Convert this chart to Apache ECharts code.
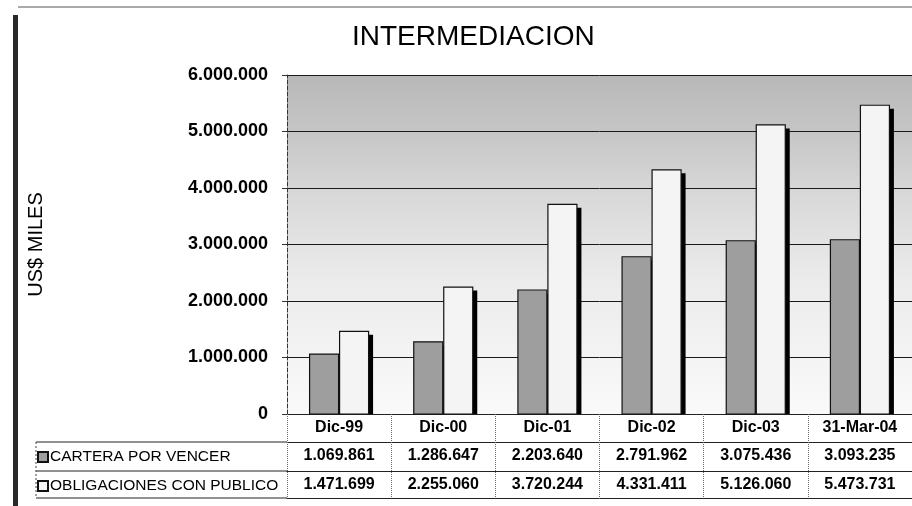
<!DOCTYPE html>
<html>
<head>
<meta charset="utf-8">
<script src="https://cdn.jsdelivr.net/npm/echarts@6/dist/echarts.min.js"></script>
<style>
  html, body { margin: 0; padding: 0; background: #fff; }
  #chart { width: 912px; height: 506px; }
</style>
</head>
<body>
<div id="chart"></div>
<script>
const categories = ["Dic-99", "Dic-00", "Dic-01", "Dic-02", "Dic-03", "31-Mar-04"];
const cartera = [1069861, 1286647, 2203640, 2791962, 3075436, 3093235];
const obligaciones = [1471699, 2255060, 3720244, 4331411, 5126060, 5473731];
const seriesNames = ["CARTERA POR VENCER", "OBLIGACIONES CON PUBLICO"];

const FONT = 'Arial, "Liberation Sans", sans-serif';
const BAR_W = 30;

// miles con punto
function fmt(n) {
  return String(n).replace(/\B(?=(\d{3})+(?!\d))/g, ".");
}

const chart = echarts.init(document.getElementById("chart"));

// barra con sombra negra a la derecha (estilo 3D de Excel)
function barRenderer(slot, fill) {
  return function (params, api) {
    const i = api.value(0);
    const v = api.value(1);
    const base = api.coord([i, 0]);
    const top = api.coord([i, v]);
    const x = base[0] + (slot === 0 ? -BAR_W : 0);
    const h = base[1] - top[1];
    return {
      type: "group",
      children: [
        {
          type: "rect",
          shape: { x: x + 4, y: top[1] + 4, width: BAR_W, height: h - 4 },
          style: { fill: "#000" },
        },
        {
          type: "rect",
          shape: { x: x + 0.5, y: top[1] + 0.5, width: BAR_W - 1, height: h - 0.5 },
          style: { fill: fill, stroke: "#111", lineWidth: 1.2 },
        },
      ],
    };
  };
}

// filas de la tabla: un eje x extra por fila
function tableAxis(offset, values) {
  return {
    type: "category",
    data: categories,
    position: "bottom",
    offset: offset,
    axisLine: { show: true, lineStyle: { color: "#222", width: 1 } },
    axisTick: { show: false },
    axisLabel: {
      show: !!values,
      margin: 6,
      color: "#000",
      fontFamily: FONT,
      fontSize: 16,
      fontWeight: "bold",
      formatter: (v, i) => (values ? fmt(values[i]) : ""),
    },
    splitLine: { show: false },
  };
}

chart.setOption({
  animation: false,
  title: {
    text: "INTERMEDIACION",
    left: 347,
    top: 18,
    textStyle: { fontFamily: FONT, fontSize: 28, fontWeight: "normal", color: "#000" },
  },
  legend: {
    orient: "vertical",
    left: 37,
    top: 449,
    padding: 0,
    itemGap: 13,
    itemWidth: 10,
    itemHeight: 10,
    icon: "rect",
    data: seriesNames,
    textStyle: { fontFamily: FONT, fontSize: 15.5, color: "#000", padding: [0, 0, 0, -3] },
  },
  grid: {
    left: 287,
    right: 0,
    top: 75,
    bottom: 92,
    show: true,
    borderWidth: 0,
    backgroundColor: new echarts.graphic.LinearGradient(0, 0, 0, 1, [
      { offset: 0, color: "#b8b8b8" },
      { offset: 0.17, color: "#c6c6c6" },
      { offset: 0.35, color: "#d8d8d8" },
      { offset: 0.6, color: "#ebebeb" },
      { offset: 1, color: "#fafafa" },
    ]),
  },
  xAxis: [
    {
      type: "category",
      data: categories,
      position: "bottom",
      axisLine: { show: true, lineStyle: { color: "#222", width: 1 } },
      axisTick: {
        show: true,
        inside: false,
        length: 84,
        lineStyle: { color: "#666", type: "dotted", width: 1 },
      },
      axisLabel: { margin: 6, color: "#000", fontFamily: FONT, fontSize: 16, fontWeight: "bold" },
    },
    tableAxis(28, cartera),
    tableAxis(57, obligaciones),
    tableAxis(84, null),
  ],
  yAxis: {
    type: "value",
    min: 0,
    max: 6000000,
    interval: 1000000,
    name: "US$ MILES",
    nameLocation: "middle",
    nameRotate: 90,
    nameGap: 241,
    nameTextStyle: { fontFamily: FONT, fontSize: 20, color: "#000" },
    axisLine: { show: true, lineStyle: { color: "#333", type: "dashed", width: 1 } },
    axisTick: { show: true, length: 5, lineStyle: { color: "#333" } },
    axisLabel: {
      margin: 19,
      color: "#000",
      fontFamily: FONT,
      fontSize: 18,
      fontWeight: "bold",
      formatter: (v) => fmt(v),
    },
    splitLine: { show: true, lineStyle: { color: "#1a1a1a", width: 1 } },
  },
  series: [
    {
      name: seriesNames[0],
      type: "custom",
      renderItem: barRenderer(0, "#9e9e9e"),
      encode: { x: 0, y: 1 },
      data: cartera.map((v, i) => [i, v]),
      itemStyle: { color: "#9e9e9e", borderColor: "#111", borderWidth: 1 },
    },
    {
      name: seriesNames[1],
      type: "custom",
      renderItem: barRenderer(1, "#f4f4f4"),
      encode: { x: 0, y: 1 },
      data: obligaciones.map((v, i) => [i, v]),
      itemStyle: { color: "#f4f4f4", borderColor: "#111", borderWidth: 1 },
    },
  ],
  graphic: [
    // marco de la tabla, columna de leyenda
    { type: "line", shape: { x1: 36, y1: 442, x2: 287, y2: 442 }, style: { stroke: "#222", lineWidth: 1 } },
    { type: "line", shape: { x1: 36, y1: 471, x2: 287, y2: 471 }, style: { stroke: "#222", lineWidth: 1 } },
    { type: "line", shape: { x1: 36, y1: 498, x2: 287, y2: 498 }, style: { stroke: "#222", lineWidth: 1 } },
    { type: "line", shape: { x1: 36, y1: 442, x2: 36, y2: 498 }, style: { stroke: "#444", lineWidth: 1, lineDash: [2, 2] } },
    // bordes del escaneo
    { type: "rect", shape: { x: 13, y: 15, width: 5, height: 491 }, style: { fill: "#2a2a2a" } },
    { type: "line", shape: { x1: 18, y1: 7, x2: 912, y2: 7 }, style: { stroke: "#555", lineWidth: 1 } },
  ],
});
</script>
</body>
</html>
